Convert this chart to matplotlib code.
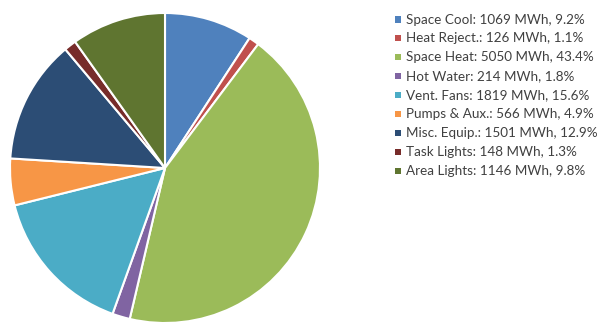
import matplotlib.pyplot as plt
from matplotlib.patches import Rectangle

categories = ["Space Cool", "Heat Reject.", "Space Heat", "Hot Water", "Vent. Fans",
              "Pumps & Aux.", "Misc. Equip.", "Task Lights", "Area Lights"]
energy_mwh = [1069, 126, 5050, 214, 1819, 566, 1501, 148, 1146]
percent = [9.2, 1.1, 43.4, 1.8, 15.6, 4.9, 12.9, 1.3, 9.8]
colors = ["#4F81BD", "#C0504D", "#9BBB59", "#8064A2", "#4BACC6",
          "#F79646", "#2C4D75", "#772C2A", "#5F7530"]

W, H = 612, 322
fig = plt.figure(figsize=(W / 100, H / 100), dpi=100)

# pie axes: square, centre at (165, 168) px, radius 155 px
cx, cy, r = 165, 168, 155
ax = fig.add_axes([(cx - r) / W, (H - cy - r) / H, 2 * r / W, 2 * r / H])
ax.pie(energy_mwh, colors=colors, startangle=90, counterclock=False, radius=1,
       wedgeprops=dict(edgecolor="white", linewidth=1.5))
ax.set_xlim(-1, 1)
ax.set_ylim(-1, 1)
ax.set_aspect("equal")
ax.axis("off")

# legend drawn by hand
y0, dy = 19.5, 18.9
for i, (name, val, pct, col) in enumerate(zip(categories, energy_mwh, percent, colors)):
    y = y0 + i * dy
    fig.patches.append(Rectangle((395 / W, (H - y - 3) / H), 6 / W, 6 / H,
                                 transform=fig.transFigure, facecolor=col,
                                 edgecolor="none"))
    fig.text(406 / W, (H - y) / H, f"{name}: {val} MWh, {pct}%",
             fontsize=9.7, family="Lato", color="#404040", va="center", ha="left")

fig.savefig("out.png", dpi=100)
